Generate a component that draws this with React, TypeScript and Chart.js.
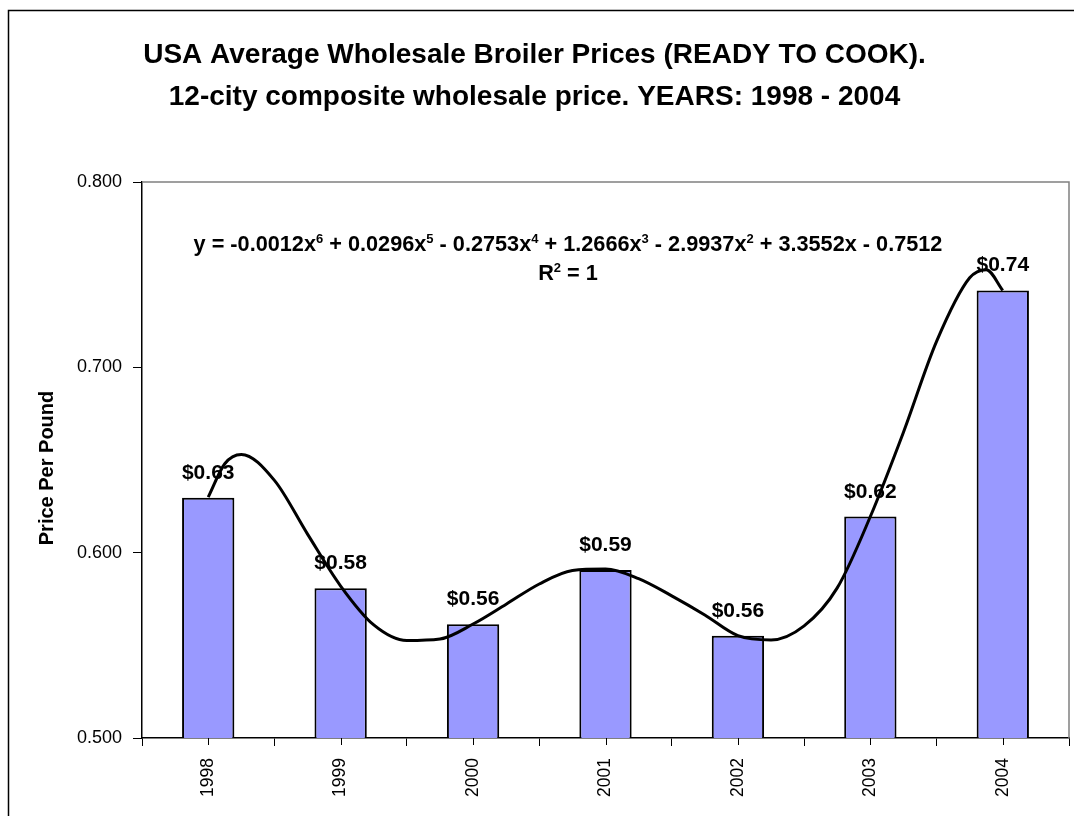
import React, { useEffect, useRef } from 'react';
import { Chart, registerables } from 'chart.js';

Chart.register(...registerables);

const FONT = 'Liberation Sans, Arial, sans-serif';

// ---- data ----
const years = ['1998', '1999', '2000', '2001', '2002', '2003', '2004'];
const prices = [0.6296, 0.5808, 0.5614, 0.5907, 0.5552, 0.6195, 0.7415];
const yTickValues = [0.5, 0.6, 0.7, 0.8];

// trendline (year, value)
const trendYears = [1998, 1998.125, 1998.25, 1998.5, 1998.75, 1999, 1999.25, 1999.5, 1999.75, 2000, 2000.25, 2000.5, 2000.75, 2001, 2001.25, 2001.5, 2001.75, 2002, 2002.25, 2002.5, 2002.75, 2003, 2003.25, 2003.5, 2003.75, 2003.875, 2004];
const trendValues = [0.630, 0.648, 0.653, 0.639, 0.610, 0.582, 0.561, 0.5526, 0.5534, 0.5615, 0.5722, 0.5831, 0.5904, 0.5912, 0.586, 0.5767, 0.5664, 0.5552, 0.5529, 0.5605, 0.581, 0.6195, 0.665, 0.714, 0.7483, 0.7527, 0.7415];

const trendCoefficients = ['-0.0012', '0.0296', '-0.2753', '1.2666', '-2.9937', '3.3552', '-0.7512'];
const rSquaredValue = '1';

const titleLines = [
  'USA Average Wholesale Broiler Prices (READY TO COOK).',
  '12-city composite wholesale price. YEARS: 1998 - 2004',
];
const yAxisTitle = 'Price Per Pound';

type Seg = { t: string; sup: boolean };

function equationSegments(): Seg[] {
  const segs: Seg[] = [{ t: 'y = ', sup: false }];
  const n = trendCoefficients.length - 1;
  trendCoefficients.forEach((c, i) => {
    const p = n - i;
    let txt = '';
    if (i === 0) txt = c;
    else txt = c.startsWith('-') ? ' - ' + c.slice(1) : ' + ' + c;
    if (p >= 1) txt += 'x';
    segs.push({ t: txt, sup: false });
    if (p >= 2) segs.push({ t: String(p), sup: true });
  });
  return segs;
}

function drawSegs(ctx: CanvasRenderingContext2D, segs: Seg[], cx: number, baseline: number, size: number) {
  const supSize = Math.round(size * 0.6);
  const fontMain = `bold ${size}px ${FONT}`;
  const fontSup = `bold ${supSize}px ${FONT}`;
  let total = 0;
  segs.forEach((s) => {
    ctx.font = s.sup ? fontSup : fontMain;
    total += ctx.measureText(s.t).width;
  });
  let x = cx - total / 2;
  ctx.textAlign = 'left';
  ctx.textBaseline = 'alphabetic';
  ctx.fillStyle = '#000';
  segs.forEach((s) => {
    ctx.font = s.sup ? fontSup : fontMain;
    ctx.fillText(s.t, x, s.sup ? baseline - size * 0.38 : baseline);
    x += ctx.measureText(s.t).width;
  });
}

const decorPlugin = {
  id: 'decor',
  beforeDraw(chart: any) {
    const ctx = chart.ctx as CanvasRenderingContext2D;
    ctx.save();
    ctx.fillStyle = '#fff';
    ctx.fillRect(0, 0, chart.width, chart.height);
    ctx.strokeStyle = '#000';
    ctx.lineWidth = 1.5;
    ctx.beginPath();
    ctx.moveTo(8.5, chart.height + 5);
    ctx.lineTo(8.5, 10.5);
    ctx.lineTo(chart.width + 5, 10.5);
    ctx.stroke();
    ctx.restore();
  },
  beforeDatasetsDraw(chart: any) {
    const { ctx, chartArea } = chart;
    ctx.save();
    ctx.strokeStyle = '#808080';
    ctx.lineWidth = 1.5;
    ctx.beginPath();
    ctx.moveTo(chartArea.left, chartArea.top);
    ctx.lineTo(chartArea.right, chartArea.top);
    ctx.lineTo(chartArea.right, chartArea.bottom);
    ctx.stroke();
    ctx.restore();
  },
  afterDatasetDraw(chart: any, args: any) {
    if (args.index !== 0) return;
    const ctx = chart.ctx as CanvasRenderingContext2D;
    const meta = chart.getDatasetMeta(0);
    ctx.save();
    ctx.font = `bold 21px ${FONT}`;
    ctx.fillStyle = '#000';
    ctx.textAlign = 'center';
    ctx.textBaseline = 'alphabetic';
    meta.data.forEach((bar: any, i: number) => {
      ctx.fillText('$' + prices[i].toFixed(2), bar.x, bar.y - 19);
    });
    ctx.restore();
  },
  afterDraw(chart: any) {
    const ctx = chart.ctx as CanvasRenderingContext2D;
    const xs = chart.scales.x;
    const { chartArea } = chart;
    ctx.save();
    ctx.strokeStyle = '#000';
    ctx.lineWidth = 1;
    years.forEach((_, i) => {
      const x = Math.round(xs.getPixelForValue(i)) + 0.5;
      ctx.beginPath();
      ctx.moveTo(x, chartArea.bottom);
      ctx.lineTo(x, chartArea.bottom + 7);
      ctx.stroke();
    });
    drawSegs(ctx, equationSegments(), 568, 251, 21.7);
    drawSegs(ctx, [{ t: 'R', sup: false }, { t: '2', sup: true }, { t: ' = ' + rSquaredValue, sup: false }], 568, 280, 21.7);
    // y axis title
    ctx.translate(47, 468);
    ctx.rotate(-Math.PI / 2);
    ctx.font = `bold 20px ${FONT}`;
    ctx.textAlign = 'center';
    ctx.textBaseline = 'middle';
    ctx.fillStyle = '#000';
    ctx.fillText(yAxisTitle, 0, 0);
    ctx.restore();
  },
};

export default function App() {
  const ref = useRef<HTMLCanvasElement | null>(null);
  useEffect(() => {
    if (!ref.current) return;
    const chart = new Chart(ref.current, {
      type: 'line',
      data: {
        labels: years,
        datasets: [
          {
            type: 'bar',
            data: prices,
            backgroundColor: '#9999FF',
            borderColor: '#000',
            borderWidth: 2,
            barPercentage: 0.395,
            categoryPercentage: 1,
            grouped: false,
            xAxisID: 'x',
            yAxisID: 'y',
            order: 1,
          } as any,
          {
            type: 'line',
            data: trendYears.map((x, i) => ({ x, y: trendValues[i] })),
            borderColor: '#000',
            borderWidth: 3,
            pointRadius: 0,
            cubicInterpolationMode: 'monotone',
            fill: false,
            xAxisID: 'x2',
            yAxisID: 'y',
            order: 0,
          } as any,
        ],
      },
      options: {
        responsive: false,
        animation: false,
        layout: { padding: { left: 0, right: 5, top: 0, bottom: 0 } },
        plugins: {
          legend: { display: false },
          tooltip: { enabled: false },
          title: {
            display: true,
            text: titleLines,
            color: '#000',
            font: { family: FONT, size: 28, weight: 'bold', lineHeight: 1.5 },
            padding: { top: 34, bottom: 64 },
          },
        },
        scales: {
          x: {
            type: 'category',
            offset: true,
            grid: { offset: true, drawOnChartArea: false, drawTicks: true, tickLength: 8, color: '#000', lineWidth: 1 },
            border: { display: true, color: '#000', width: 1.5 },
            ticks: { color: '#000', font: { family: FONT, size: 17.5 }, minRotation: 90, maxRotation: 90, padding: 12, autoSkip: false },
            afterFit: (s: any) => { s.height = 78; },
          },
          x2: {
            type: 'linear',
            display: false,
            offset: false,
            grid: { offset: false },
            min: 1997.5,
            max: 2004.5,
          },
          y: {
            min: 0.5,
            max: 0.8,
            afterBuildTicks: (s: any) => { s.ticks = yTickValues.map((v) => ({ value: v })); },
            grid: { drawOnChartArea: false, drawTicks: true, tickLength: 9, color: '#000', lineWidth: 1 },
            border: { display: true, color: '#000', width: 1.5 },
            ticks: { color: '#000', font: { family: FONT, size: 18 }, padding: 11, callback: (v: any) => Number(v).toFixed(3) },
            title: { display: false },
            afterFit: (s: any) => { s.width = 142; },
          },
        },
      } as any,
      plugins: [decorPlugin],
    });
    return () => chart.destroy();
  }, []);
  return (
    <div style={{ position: 'absolute', left: 0, top: 0, width: 1074, height: 816, overflow: 'hidden' }}>
      <canvas ref={ref} width={1074} height={816} style={{ display: 'block' }} />
    </div>
  );
}
